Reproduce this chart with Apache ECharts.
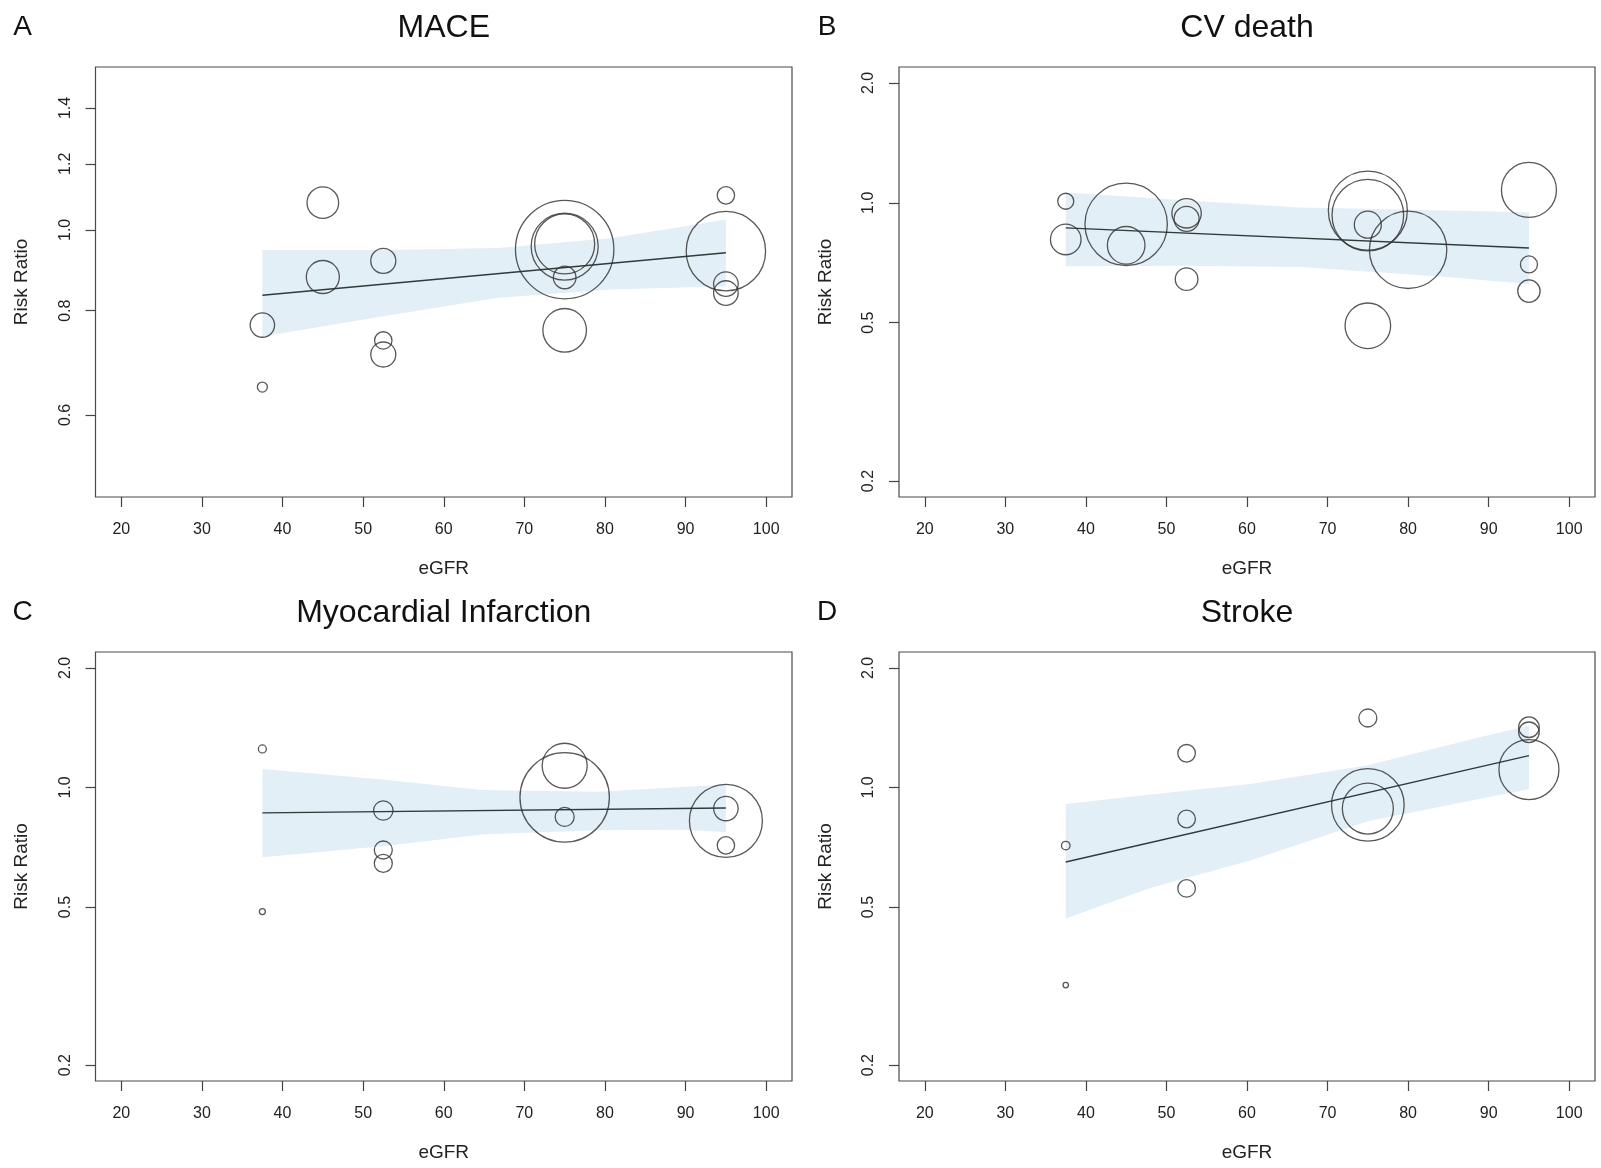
<!DOCTYPE html>
<html>
<head>
<meta charset="utf-8">
<title>Meta-regression of risk ratio on eGFR</title>
<script src="https://cdn.jsdelivr.net/npm/echarts@6/dist/echarts.min.js"></script>
<style>
  html, body { margin: 0; padding: 0; background: #ffffff; }
  #chart { width: 1601px; height: 1168px; }
</style>
</head>
<body>
<div id="chart"></div>
<script>
// ---- axis ticks ----
const xTicks = [20, 30, 40, 50, 60, 70, 80, 90, 100];
const maceTicks = [0.6, 0.8, 1.0, 1.2, 1.4];
const rrTicks = [0.2, 0.5, 1.0, 2.0];

// ---- A: MACE ----
const maceEgfr   = [37.5, 37.5, 45, 45, 52.5, 52.5, 52.5, 75, 75, 75, 75, 75, 95, 95, 95, 95];
const maceRR     = [0.769, 0.648, 1.078, 0.878, 0.918, 0.737, 0.709, 0.947, 0.955, 0.962, 0.877, 0.758, 1.100, 0.943, 0.861, 0.840];
const maceWeight = [12.2, 5.0, 15.8, 16.5, 12.5, 8.7, 12.5, 49.2, 33.5, 30.0, 11.3, 21.8, 8.7, 39.7, 12.3, 12.3];
const maceFitEgfr = [37.5, 95];
const maceFitRR   = [0.835, 0.939];
const maceCiEgfr  = [37.5, 52.5, 66.8, 80.9, 95];
const maceCiLow   = [0.745, 0.788, 0.829, 0.848, 0.856];
const maceCiHigh  = [0.946, 0.946, 0.951, 0.978, 1.029];

// ---- B: CV death ----
const cvdEgfr   = [37.5, 37.5, 45, 45, 52.5, 52.5, 52.5, 75, 75, 75, 75, 80, 95, 95, 95];
const cvdRR     = [1.009, 0.809, 0.883, 0.782, 0.941, 0.911, 0.643, 0.956, 0.931, 0.881, 0.491, 0.762, 1.077, 0.700, 0.600];
const cvdWeight = [8.0, 15.3, 41.2, 18.8, 14.7, 12.5, 11.3, 39.5, 35.8, 13.5, 22.8, 38.7, 27.5, 8.5, 11.2];
const cvdFitEgfr = [37.5, 95];
const cvdFitRR   = [0.865, 0.770];
const cvdCiEgfr  = [37.5, 52.5, 66.6, 84.9, 95];
const cvdCiLow   = [0.693, 0.695, 0.690, 0.651, 0.625];
const cvdCiHigh  = [1.062, 1.013, 0.973, 0.956, 0.947];

// ---- C: Myocardial Infarction ----
const miEgfr   = [37.5, 37.5, 52.5, 52.5, 52.5, 75, 75, 75, 95, 95, 95];
const miRR     = [1.250, 0.487, 0.875, 0.696, 0.644, 1.134, 0.944, 0.843, 0.824, 0.885, 0.715];
const miWeight = [4.0, 3.0, 9.7, 9.0, 9.0, 22.5, 44.7, 9.5, 36.5, 12.2, 8.7];
const miFitEgfr = [37.5, 95];
const miFitRR   = [0.863, 0.888];
const miCiEgfr  = [37.5, 52.4, 64.8, 79.2, 89.5, 95];
const miCiLow   = [0.667, 0.711, 0.761, 0.780, 0.783, 0.772];
const miCiHigh  = [1.113, 1.047, 0.985, 0.975, 1.003, 1.017];

// ---- D: Stroke ----
const strokeEgfr   = [37.5, 37.5, 52.5, 52.5, 52.5, 75, 75, 75, 95, 95, 95];
const strokeRR     = [0.714, 0.318, 1.219, 0.833, 0.557, 1.496, 0.904, 0.885, 1.418, 1.377, 1.109];
const strokeWeight = [4.3, 2.7, 8.8, 8.8, 8.8, 9.0, 36.3, 25.5, 10.3, 10.3, 30.0];
const strokeFitEgfr = [37.5, 95];
const strokeFitRR   = [0.649, 1.203];
const strokeCiEgfr  = [37.5, 48, 60.4, 75, 89.4, 95];
const strokeCiLow   = [0.468, 0.558, 0.655, 0.822, 0.941, 0.990];
const strokeCiHigh  = [0.909, 0.960, 1.020, 1.137, 1.345, 1.430];

// ---- panel layout ----
const FONT = '"Liberation Sans", Arial, Helvetica, sans-serif';
const INK = '#222222';
const X_RANGE = [16.8, 103.2];          // 20..100 padded by 4%
const MACE_RANGE = [0.4785, 1.5674];    // 0.5..1.5 padded by 4% on log scale
const RR_RANGE = [0.1824, 2.193];       // 0.2..2 padded by 4% on log scale

const panels = [
  { letter: 'A', title: 'MACE', left: 95.5, top: 67, width: 696.5, height: 430,
    yTicks: maceTicks, yRange: MACE_RANGE,
    x: maceEgfr, rr: maceRR, w: maceWeight,
    fitX: maceFitEgfr, fitY: maceFitRR, ciX: maceCiEgfr, ciLo: maceCiLow, ciHi: maceCiHigh },
  { letter: 'B', title: 'CV death', left: 899, top: 67, width: 696, height: 430,
    yTicks: rrTicks, yRange: RR_RANGE,
    x: cvdEgfr, rr: cvdRR, w: cvdWeight,
    fitX: cvdFitEgfr, fitY: cvdFitRR, ciX: cvdCiEgfr, ciLo: cvdCiLow, ciHi: cvdCiHigh },
  { letter: 'C', title: 'Myocardial Infarction', left: 95.5, top: 652, width: 696.5, height: 429,
    yTicks: rrTicks, yRange: RR_RANGE,
    x: miEgfr, rr: miRR, w: miWeight,
    fitX: miFitEgfr, fitY: miFitRR, ciX: miCiEgfr, ciLo: miCiLow, ciHi: miCiHigh },
  { letter: 'D', title: 'Stroke', left: 899, top: 652, width: 696, height: 429,
    yTicks: rrTicks, yRange: RR_RANGE,
    x: strokeEgfr, rr: strokeRR, w: strokeWeight,
    fitX: strokeFitEgfr, fitY: strokeFitRR, ciX: strokeCiEgfr, ciLo: strokeCiLow, ciHi: strokeCiHigh }
];

// bubble diameter in px per unit of study weight
const BUBBLE_PER_WEIGHT = 2;

function bandRenderer(bx, lo, hi) {
  return function (params, api) {
    if (params.dataIndex !== 0) return null;
    const pts = [];
    for (let i = 0; i < bx.length; i++) pts.push(api.coord([bx[i], hi[i]]));
    for (let i = bx.length - 1; i >= 0; i--) pts.push(api.coord([bx[i], lo[i]]));
    return {
      type: 'polygon',
      shape: { points: pts },
      style: { fill: '#e3eff6', stroke: null }
    };
  };
}

const grid = [], xAxis = [], yAxis = [], series = [], title = [];

panels.forEach((p, i) => {
  grid.push({
    left: p.left, top: p.top, width: p.width, height: p.height,
    show: true, borderColor: '#4a4a4a', borderWidth: 1.2, backgroundColor: 'transparent',
    containLabel: false
  });

  xAxis.push({
    gridIndex: i, type: 'value', min: X_RANGE[0], max: X_RANGE[1],
    axisLine: { show: false },
    axisTick: { show: true, length: 10, customValues: xTicks, lineStyle: { color: '#444', width: 1.2 } },
    axisLabel: { customValues: xTicks, margin: 25, fontSize: 16, color: INK, fontFamily: FONT },
    splitLine: { show: false },
    name: 'eGFR', nameLocation: 'middle', nameGap: 62,
    nameTextStyle: { fontSize: 19, color: INK, fontFamily: FONT }
  });

  yAxis.push({
    gridIndex: i, type: 'log', logBase: 10, min: p.yRange[0], max: p.yRange[1],
    axisLine: { show: false },
    axisTick: { show: true, length: 10, customValues: p.yTicks, lineStyle: { color: '#444', width: 1.2 } },
    axisLabel: {
      customValues: p.yTicks, rotate: 90, margin: 22, fontSize: 16, color: INK, fontFamily: FONT,
      formatter: v => Number(v).toFixed(1)
    },
    splitLine: { show: false },
    name: 'Risk Ratio', nameLocation: 'middle', nameGap: 64,
    nameTextStyle: { fontSize: 19, color: INK, fontFamily: FONT }
  });

  // confidence band of the fitted meta-regression
  series.push({
    type: 'custom', xAxisIndex: i, yAxisIndex: i, silent: true, z: 1,
    renderItem: bandRenderer(p.ciX, p.ciLo, p.ciHi),
    encode: { x: 0, y: [1, 2] },
    data: p.ciX.map((v, k) => [v, p.ciLo[k], p.ciHi[k]])
  });

  // fitted line
  series.push({
    type: 'line', xAxisIndex: i, yAxisIndex: i, silent: true, z: 2,
    symbol: 'none',
    lineStyle: { color: '#2f3a3a', width: 1.4 },
    data: p.fitX.map((v, k) => [v, p.fitY[k]])
  });

  // studies, sized by weight
  series.push({
    type: 'scatter', xAxisIndex: i, yAxisIndex: i, silent: true, z: 3,
    symbol: 'circle',
    symbolSize: d => d[2] * BUBBLE_PER_WEIGHT,
    itemStyle: { color: 'rgba(0,0,0,0)', borderColor: '#2e2e2e', borderWidth: 1.3 },
    data: p.x.map((v, k) => [v, p.rr[k], p.w[k]])
  });

  const cx = p.left + p.width / 2;
  const ty = p.top - 55;
  title.push({
    text: p.title, left: cx, top: ty, padding: 0,
    textAlign: 'center',
    textStyle: { fontSize: 32, fontWeight: 'normal', color: '#111', fontFamily: FONT }
  });
  title.push({
    text: p.letter, left: p.left < 400 ? 22.5 : 827, top: ty + 1, padding: 0,
    textAlign: 'center',
    textStyle: { fontSize: 28, fontWeight: 'normal', color: '#111', fontFamily: FONT }
  });
});

const chart = echarts.init(document.getElementById('chart'), null, { renderer: 'canvas' });
chart.setOption({
  animation: false,
  backgroundColor: '#ffffff',
  title, grid, xAxis, yAxis, series
});
</script>
</body>
</html>
